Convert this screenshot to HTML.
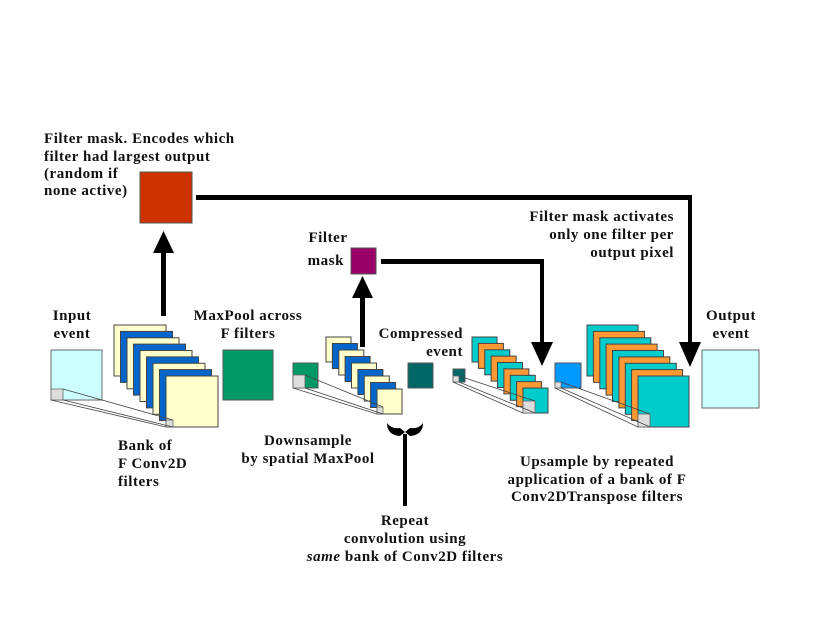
<!DOCTYPE html>
<html><head><style>
html,body{margin:0;padding:0;background:#fff;}
svg text{font-family:"Liberation Serif",serif;font-weight:bold;font-size:15px;letter-spacing:0.55px;fill:#111;}
</style></head><body>
<svg width="830" height="623" viewBox="0 0 830 623" xmlns="http://www.w3.org/2000/svg">
<!-- Input event -->
<rect x="51" y="350" width="51" height="50" fill="#ccffff" stroke="#666"/>
<rect x="51" y="389" width="12" height="11" fill="#ddd" stroke="#666" stroke-width="0.8"/>
<!-- stack 1 -->
<g stroke="#444" stroke-width="1">
<rect x="114" y="325" width="52" height="51" fill="#ffffcc"/>
<rect x="120.5" y="331.4" width="52" height="51" fill="#0066cc"/>
<rect x="127" y="337.8" width="52" height="51" fill="#ffffcc"/>
<rect x="133.5" y="344.1" width="52" height="51" fill="#0066cc"/>
<rect x="140" y="350.5" width="52" height="51" fill="#ffffcc"/>
<rect x="146.5" y="356.9" width="52" height="51" fill="#0066cc"/>
<rect x="153" y="363.3" width="52" height="51" fill="#ffffcc"/>
<rect x="159.5" y="369.6" width="52" height="51" fill="#0066cc"/>
<rect x="166" y="376" width="52" height="51" fill="#ffffcc"/>
</g>
<rect x="166" y="420" width="7" height="7" fill="#ddd" stroke="#666" stroke-width="0.8"/>
<g stroke="#444" stroke-width="0.8">
<line x1="63" y1="389" x2="173" y2="420"/><line x1="63" y1="400" x2="173" y2="427"/><line x1="51" y1="400" x2="166" y2="427"/>
</g>
<!-- maxpool -->
<rect x="223" y="350" width="50" height="50" fill="#009966" stroke="#555"/>
<!-- small green -->
<rect x="293" y="363" width="25" height="25" fill="#009966" stroke="#555"/>
<rect x="293" y="375" width="12" height="13" fill="#ddd" stroke="#666" stroke-width="0.8"/>
<g stroke="#444" stroke-width="1">
<rect x="326" y="337" width="25" height="25" fill="#ffffcc"/>
<rect x="332.4" y="343.5" width="25" height="25" fill="#0066cc"/>
<rect x="338.8" y="350" width="25" height="25" fill="#ffffcc"/>
<rect x="345.1" y="356.5" width="25" height="25" fill="#0066cc"/>
<rect x="351.5" y="363" width="25" height="25" fill="#ffffcc"/>
<rect x="357.9" y="369.5" width="25" height="25" fill="#0066cc"/>
<rect x="364.3" y="376" width="25" height="25" fill="#ffffcc"/>
<rect x="370.6" y="382.5" width="25" height="25" fill="#0066cc"/>
<rect x="377" y="389" width="25" height="25" fill="#ffffcc"/>
</g>
<rect x="377" y="407" width="6" height="7" fill="#ddd" stroke="#666" stroke-width="0.8"/>
<g stroke="#444" stroke-width="0.8">
<line x1="305" y1="375" x2="383" y2="407"/><line x1="305" y1="388" x2="383" y2="414"/><line x1="293" y1="388" x2="377" y2="414"/>
</g>
<!-- compressed -->
<rect x="408" y="363" width="25" height="25" fill="#006666" stroke="#555"/>
<rect x="453" y="369" width="12" height="13" fill="#006666" stroke="#555"/>
<rect x="453" y="376" width="6" height="6" fill="#ddd" stroke="#666" stroke-width="0.8"/>
<g stroke="#444" stroke-width="1">
<rect x="472" y="337" width="25" height="25" fill="#00cccc"/>
<rect x="478.4" y="343.4" width="25" height="25" fill="#ff9933"/>
<rect x="484.8" y="349.8" width="25" height="25" fill="#00cccc"/>
<rect x="491.1" y="356.1" width="25" height="25" fill="#ff9933"/>
<rect x="497.5" y="362.5" width="25" height="25" fill="#00cccc"/>
<rect x="503.9" y="368.9" width="25" height="25" fill="#ff9933"/>
<rect x="510.3" y="375.3" width="25" height="25" fill="#00cccc"/>
<rect x="516.6" y="381.6" width="25" height="25" fill="#ff9933"/>
<rect x="523" y="388" width="25" height="25" fill="#00cccc"/>
</g>
<rect x="523" y="401" width="12" height="12" fill="#ddd" stroke="#666" stroke-width="0.8"/>
<g stroke="#444" stroke-width="0.8">
<line x1="459" y1="376" x2="535" y2="401"/><line x1="459" y1="382" x2="535" y2="413"/><line x1="453" y1="382" x2="523" y2="413"/>
</g>
<!-- blue -->
<rect x="555" y="363" width="26" height="25" fill="#0099ff" stroke="#555"/>
<rect x="555" y="382" width="6" height="6" fill="#ddd" stroke="#666" stroke-width="0.8"/>
<g stroke="#444" stroke-width="1">
<rect x="587" y="325" width="51" height="51" fill="#00cccc"/>
<rect x="593.4" y="331.4" width="51" height="51" fill="#ff9933"/>
<rect x="599.8" y="337.8" width="51" height="51" fill="#00cccc"/>
<rect x="606.1" y="344.1" width="51" height="51" fill="#ff9933"/>
<rect x="612.5" y="350.5" width="51" height="51" fill="#00cccc"/>
<rect x="618.9" y="356.9" width="51" height="51" fill="#ff9933"/>
<rect x="625.3" y="363.3" width="51" height="51" fill="#00cccc"/>
<rect x="631.6" y="369.6" width="51" height="51" fill="#ff9933"/>
<rect x="638" y="376" width="51" height="51" fill="#00cccc"/>
</g>
<rect x="638" y="414" width="12" height="13" fill="#ddd" stroke="#666" stroke-width="0.8"/>
<g stroke="#444" stroke-width="0.8">
<line x1="561" y1="382" x2="650" y2="414"/><line x1="561" y1="388" x2="650" y2="427"/><line x1="555" y1="388" x2="638" y2="427"/>
</g>
<!-- output -->
<rect x="702" y="350" width="57" height="58" fill="#ccffff" stroke="#666"/>
<!-- masks -->
<rect x="140" y="172" width="52" height="51" fill="#cc3300" stroke="#555"/>
<rect x="351" y="248" width="25" height="26" fill="#990066" stroke="#555"/>
<!-- arrows -->
<g fill="#000" stroke="none">
<rect x="161" y="250" width="5" height="66"/>
<polygon points="163.5,231 153,253 174,253"/>
<rect x="360" y="295" width="5" height="52"/>
<polygon points="362.5,276 352,298 373,298"/>
<rect x="196" y="195" width="496" height="5"/>
<rect x="688" y="195" width="4" height="150"/>
<polygon points="690,367 679,342 701,342"/>
<rect x="381" y="259" width="163" height="5"/>
<rect x="540" y="259" width="4" height="86"/>
<polygon points="542,366 531,342 553,342"/>
<rect x="403" y="434" width="4" height="72"/>
</g>
<path d="M387,423 Q387,435 400,436 L405,432 L410,436 Q423,435 423,423 Q419,429 410,428 L405,432 L400,428 Q391,429 387,423 Z" fill="#000"/>
<!-- texts -->
<text x="44" y="143">Filter mask. Encodes which</text>
<text x="44" y="161">filter had largest output</text>
<text x="44" y="178">(random if</text>
<text x="44" y="195">none active)</text>
<text x="328" y="242" text-anchor="middle">Filter</text>
<text x="344" y="265" text-anchor="end">mask</text>
<text x="674" y="221" text-anchor="end">Filter mask activates</text>
<text x="674" y="239" text-anchor="end">only one filter per</text>
<text x="674" y="257" text-anchor="end">output pixel</text>
<text x="72" y="320" text-anchor="middle">Input</text>
<text x="72" y="338" text-anchor="middle">event</text>
<text x="248" y="320" text-anchor="middle">MaxPool across</text>
<text x="248" y="338" text-anchor="middle">F filters</text>
<text x="463" y="338" text-anchor="end">Compressed</text>
<text x="463" y="356" text-anchor="end">event</text>
<text x="731" y="320" text-anchor="middle">Output</text>
<text x="731" y="338" text-anchor="middle">event</text>
<text x="118" y="450">Bank of</text>
<text x="118" y="468">F Conv2D</text>
<text x="118" y="486">filters</text>
<text x="308" y="445" text-anchor="middle">Downsample</text>
<text x="308" y="463" text-anchor="middle">by spatial MaxPool</text>
<text x="597" y="466" text-anchor="middle">Upsample by repeated</text>
<text x="597" y="484" text-anchor="middle">application of a bank of F</text>
<text x="597" y="501" text-anchor="middle">Conv2DTranspose filters</text>
<text x="405" y="525" text-anchor="middle">Repeat</text>
<text x="405" y="543" text-anchor="middle">convolution using</text>
<text x="405" y="561" text-anchor="middle"><tspan font-style="italic">same</tspan> bank of Conv2D filters</text>
</svg>
</body></html>
